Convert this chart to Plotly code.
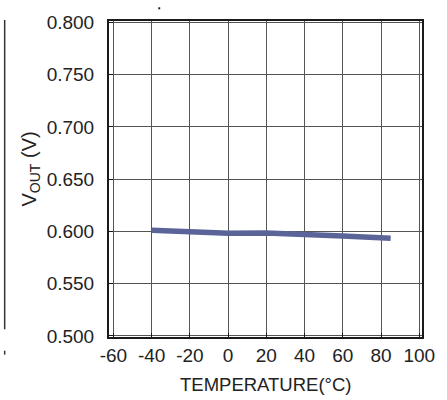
import plotly.graph_objects as go

temperature = [-40, -20, 0, 20, 40, 60, 85]
vout = [0.6012, 0.6000, 0.5981, 0.5984, 0.5975, 0.5956, 0.5935]

x_ticks = [-60, -40, -20, 0, 20, 40, 60, 80, 100]
x_tick_labels = ["-60", "-40", "-20", "0", "20", "40", "60", "80", "100"]
y_ticks = [0.500, 0.550, 0.600, 0.650, 0.700, 0.750, 0.800]
y_tick_labels = ["0.500", "0.550", "0.600", "0.650", "0.700", "0.750", "0.800"]

W, H = 447, 400
ML, MR, MT, MB = 109, 14, 14, 63
PW, PH = W - ML - MR, H - MT - MB

def px(x):
    return (x - ML) / PW

def py(y):
    return (H - MB - y) / PH

FONT = "Liberation Sans, Arial, sans-serif"

fig = go.Figure()
fig.add_trace(go.Scatter(
    x=temperature, y=vout, mode="lines",
    line=dict(color="#5b6499", width=5.5),
    showlegend=False, hoverinfo="skip",
))

axis_common = dict(
    showline=True, linecolor="#1a1a1a", linewidth=2, mirror=True,
    showgrid=True, gridcolor="#555555", gridwidth=1,
    zeroline=False, ticks="inside", ticklen=4, tickcolor="#1a1a1a",
    tickfont=dict(family=FONT, size=19, color="#222222"),
)

fig.update_xaxes(range=[-62.3, 101.4], tickvals=x_ticks, ticktext=x_tick_labels, **axis_common)
fig.update_yaxes(range=[0.4989, 0.8014], tickvals=y_ticks, ticktext=y_tick_labels,
                 ticklabelstandoff=9, **axis_common)

fig.add_annotation(
    text="TEMPERATURE(°C)", xref="paper", yref="paper",
    x=px(271), y=py(386), showarrow=False,
    font=dict(family=FONT, size=18.5, color="#222222"),
    xanchor="center", yanchor="middle",
)
fig.add_annotation(
    text="V<sub>OUT</sub> (V)", xref="paper", yref="paper",
    x=px(28), y=py(165), showarrow=False, textangle=-90,
    font=dict(family=FONT, size=20, color="#222222"),
    xanchor="center", yanchor="middle",
)

# remnants of neighbouring content at the page edges
fig.add_shape(type="line", xref="paper", yref="paper",
              x0=px(1), x1=px(1), y0=py(13), y1=py(329),
              line=dict(color="#333333", width=1.5))
fig.add_shape(type="line", xref="paper", yref="paper",
              x0=px(1), x1=px(1), y0=py(351), y1=py(355),
              line=dict(color="#333333", width=1.5))
fig.add_shape(type="line", xref="paper", yref="paper",
              x0=px(160), x1=px(162), y0=py(1), y1=py(1),
              line=dict(color="#222222", width=2))

fig.update_layout(
    width=W, height=H,
    margin=dict(l=ML, r=MR, t=MT, b=MB),
    paper_bgcolor="white", plot_bgcolor="white",
    font=dict(family=FONT),
)

fig.write_html("out.html", config={"displayModeBar": False},
               post_script="document.body.style.margin='0';")
